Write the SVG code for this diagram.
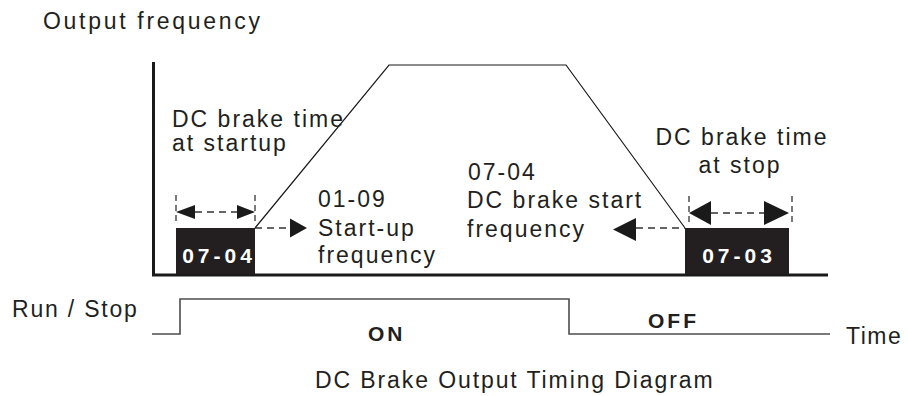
<svg xmlns="http://www.w3.org/2000/svg" width="908" height="396" viewBox="0 0 908 396">
<style>
.t{font-family:"Liberation Sans",Arial,sans-serif;font-size:23px;letter-spacing:2px;fill:#231f20}
.b{font-family:"Liberation Sans",Arial,sans-serif;font-weight:bold;fill:#231f20}
.w{font-family:"Liberation Sans",Arial,sans-serif;font-weight:bold;font-size:21px;letter-spacing:4px;fill:#fff}
.axis{stroke:#1a1a1a;stroke-width:3;fill:none}
.ramp{stroke:#1a1a1a;stroke-width:1.2;fill:none}
.dash{stroke:#333;stroke-width:1.3;stroke-dasharray:7 5;fill:none}
.tick{stroke:#333;stroke-width:1.3;stroke-dasharray:6 4;fill:none}
.sig{stroke:#4d4d4d;stroke-width:1.6;fill:none}
.ah{fill:#1a1a1a}
.box{fill:#231f20}
</style>
<text class="t" x="43" y="29" style="letter-spacing:2.7px">Output frequency</text>
<g id="axes">
<line class="axis" x1="153.5" y1="62" x2="153.5" y2="276"/>
<line class="axis" x1="152" y1="275" x2="828" y2="275"/>
</g>
<g id="connectors">
<polyline class="ramp" points="255,228 389,65 566,65 685,228"/>
<line class="tick" x1="176" y1="195" x2="176" y2="224"/>
<line class="tick" x1="255" y1="195" x2="255" y2="224"/>
<line class="dash" x1="195" y1="212" x2="237" y2="212"/>
<polygon class="ah" points="176,212 195,205 195,219"/>
<polygon class="ah" points="255,212 237,205 237,219"/>
<line class="dash" x1="255" y1="228" x2="290" y2="228"/>
<polygon class="ah" points="307,228 290,218.5 290,237.5"/>
<line class="tick" x1="689" y1="196" x2="689" y2="224"/>
<line class="tick" x1="792" y1="196" x2="792" y2="224"/>
<line class="dash" x1="711" y1="213" x2="764" y2="213"/>
<polygon class="ah" points="689,213 711,201 711,225"/>
<polygon class="ah" points="789,213 764,201 764,225"/>
<line class="dash" x1="636" y1="228" x2="685" y2="228"/>
<polygon class="ah" points="613,229.5 636,218 636,241"/>
</g>
<g id="box-start">
<rect class="box" x="176" y="228" width="79" height="46"/>
<text class="w" x="219" y="263" text-anchor="middle">07-04</text>
</g>
<g id="box-stop">
<rect class="box" x="685" y="228" width="104" height="46"/>
<text class="w" x="739" y="263" text-anchor="middle">07-03</text>
</g>
<g id="label-start">
<text class="t" x="172" y="127">DC brake time</text>
<text class="t" x="172" y="151">at startup</text>
</g>
<g id="label-startfreq">
<text class="t" x="318" y="207">01-09</text>
<text class="t" x="318" y="236">Start-up</text>
<text class="t" x="318" y="263">frequency</text>
</g>
<g id="label-brakefreq">
<text class="t" x="468" y="180">07-04</text>
<text class="t" x="467" y="208">DC brake start</text>
<text class="t" x="467" y="237">frequency</text>
</g>
<g id="label-stop">
<text class="t" x="742" y="145" text-anchor="middle">DC brake time</text>
<text class="t" x="740" y="173" text-anchor="middle">at stop</text>
</g>
<g id="runstop">
<text class="t" x="12" y="317" style="letter-spacing:1.8px">Run / Stop</text>
<polyline class="sig" points="152,334 180,334 180,299 569,299 569,334 830,334"/>
<text class="b" x="368" y="341" style="font-size:21px;letter-spacing:3px">ON</text>
<text class="b" x="648" y="328" style="font-size:21px;letter-spacing:3px">OFF</text>
<text class="t" x="846" y="344" style="letter-spacing:1.5px">Time</text>
</g>
<text class="t" x="315" y="388" style="letter-spacing:1.9px">DC Brake Output Timing Diagram</text>
</svg>
